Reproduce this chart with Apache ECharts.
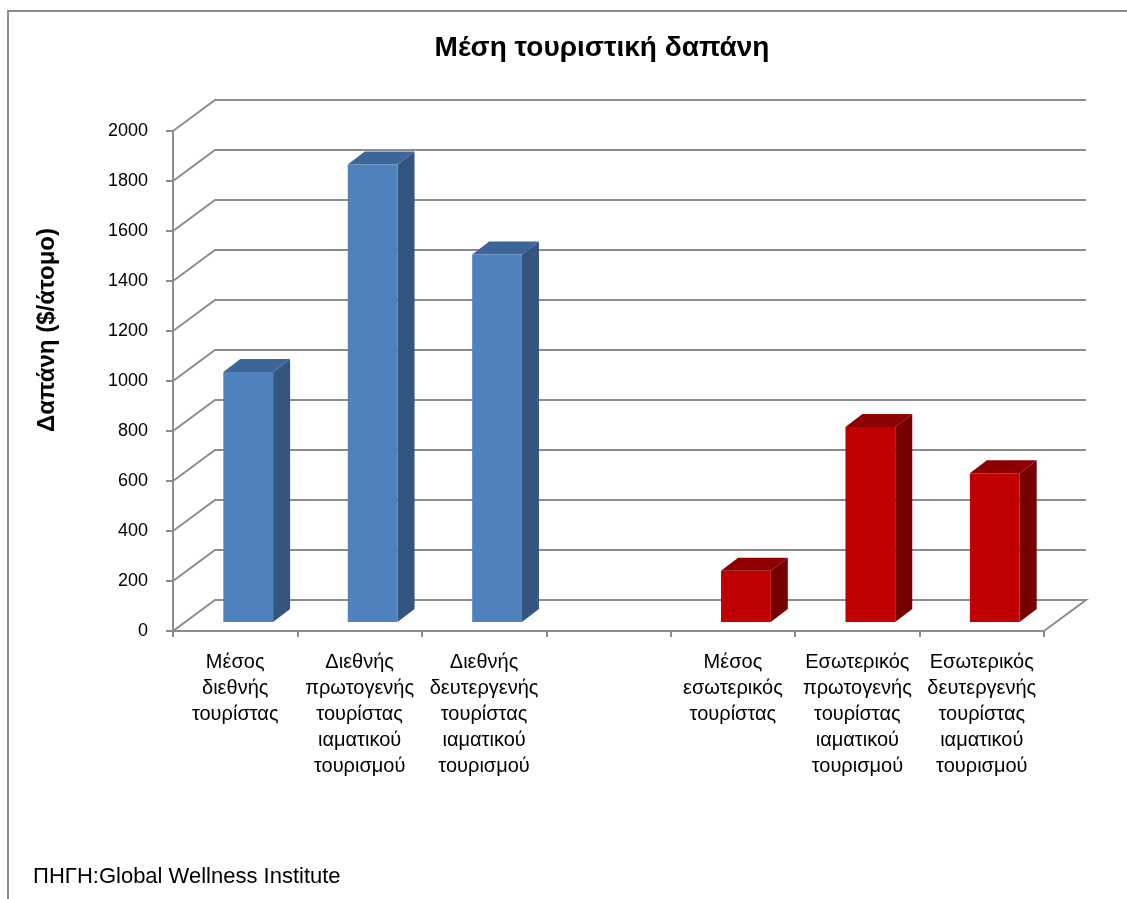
<!DOCTYPE html>
<html>
<head>
<meta charset="utf-8">
<script src="https://cdn.jsdelivr.net/npm/echarts@6/dist/echarts.min.js"></script>
<style>
  html, body { margin: 0; padding: 0; background: #fff; }
  #chart { width: 1127px; height: 899px; }
</style>
</head>
<body>
<div id="chart"></div>
<script>
// data
const categories = [
  'Μέσος\nδιεθνής\nτουρίστας',
  'Διεθνής\nπρωτογενής\nτουρίστας\nιαματικού\nτουρισμού',
  'Διεθνής\nδευτεργενής\nτουρίστας\nιαματικού\nτουρισμού',
  '',
  'Μέσος\nεσωτερικός\nτουρίστας',
  'Εσωτερικός\nπρωτογενής\nτουρίστας\nιαματικού\nτουρισμού',
  'Εσωτερικός\nδευτεργενής\nτουρίστας\nιαματικού\nτουρισμού'
]
const internationalIdx = [0, 1, 2]
const internationalValues = [1000, 1830, 1470]
const domesticIdx = [4, 5, 6]
const domesticValues = [205, 780, 595]
const yTicks = [0, 200, 400, 600, 800, 1000, 1200, 1400, 1600, 1800, 2000]

// pseudo 3d offsets (px)
const WALL = [42, -31]
const BAR_SHIFT = [13, -9]
const BAR_DEPTH = [17, -13]
const GRID_COLOR = '#8c8c8c'
const FONT = 'Liberation Sans'

const chart = echarts.init(document.getElementById('chart'))

// back wall + left wall + floor lines
const wallItem = (params, api) => {
  const band = api.size([1, 0])[0]
  const v = api.value(1)
  const p = api.coord([0, v])
  const left = p[0] - band / 2
  const right = api.coord([categories.length - 1, v])[0] + band / 2
  const y = p[1]
  const pts = [[left, y], [left + WALL[0], y + WALL[1]], [right + WALL[0], y + WALL[1]]]
  if (v === 0) pts.push([right, y])
  return {
    type: 'polyline',
    shape: { points: pts },
    style: { stroke: GRID_COLOR, lineWidth: 2, fill: null }
  }
}

const barItem = (front, side, top) => (params, api) => {
  const base = api.coord([api.value(0), 0])
  const head = api.coord([api.value(0), api.value(1)])
  const w = api.size([1, 0])[0] * 0.4
  const x0 = base[0] - w / 2 + BAR_SHIFT[0]
  const x1 = x0 + w
  const y0 = base[1] + BAR_SHIFT[1]
  const y1 = head[1] + BAR_SHIFT[1]
  const [dx, dy] = BAR_DEPTH
  return {
    type: 'group',
    children: [
      { type: 'polygon', shape: { points: [[x1, y1], [x1 + dx, y1 + dy], [x1 + dx, y0 + dy], [x1, y0]] }, style: { fill: side } },
      { type: 'polygon', shape: { points: [[x0, y1], [x0 + dx, y1 + dy], [x1 + dx, y1 + dy], [x1, y1]] }, style: { fill: top } },
      { type: 'polygon', shape: { points: [[x0, y1], [x1, y1], [x1, y0], [x0, y0]] }, style: { fill: front } }
    ]
  }
}

const options = {
  animation: false,
  textStyle: { fontFamily: FONT },
  title: {
    text: 'Μέση τουριστική δαπάνη',
    left: 597,
    top: 29,
    textAlign: 'center',
    textStyle: { fontFamily: FONT, fontSize: 28, fontWeight: 'bold', color: '#000' }
  },
  grid: { left: 173, top: 131, width: 871, height: 500 },
  xAxis: {
    type: 'category',
    data: categories,
    axisLine: { lineStyle: { color: GRID_COLOR, width: 2 } },
    axisTick: { show: true, interval: 0, length: 6, lineStyle: { color: GRID_COLOR, width: 2 } },
    axisLabel: { interval: 0, fontSize: 20, lineHeight: 26, margin: 18, color: '#000', fontFamily: FONT },
    splitLine: { show: false }
  },
  yAxis: {
    type: 'value',
    min: 0,
    max: 2000,
    interval: 200,
    axisLine: { show: true, lineStyle: { color: GRID_COLOR, width: 2 } },
    axisTick: { show: true, length: 7, lineStyle: { color: GRID_COLOR, width: 2 } },
    axisLabel: { fontSize: 18, margin: 25, color: '#000', fontFamily: FONT, formatter: v => String(v) },
    splitLine: { show: false }
  },
  series: [
    {
      type: 'custom',
      z: 1,
      silent: true,
      renderItem: wallItem,
      data: yTicks.map(v => [0, v])
    },
    {
      name: 'Διεθνής',
      type: 'custom',
      z: 3,
      renderItem: barItem('#4f81bd', '#34557f', '#3e6598'),
      data: internationalIdx.map((c, i) => [c, internationalValues[i]])
    },
    {
      name: 'Εσωτερικός',
      type: 'custom',
      z: 3,
      renderItem: barItem('#c00000', '#760000', '#8e0000'),
      data: domesticIdx.map((c, i) => [c, domesticValues[i]])
    }
  ],
  graphic: [
    {
      type: 'polyline',
      shape: { points: [[8, 899], [8, 11], [1127, 11]] },
      style: { stroke: '#8a8a8a', lineWidth: 2, fill: null }
    },
    {
      type: 'text',
      x: 47,
      y: 330,
      rotation: Math.PI / 2,
      style: { text: 'Δαπάνη ($/άτομο)', fontSize: 24, fontWeight: 'bold', fill: '#000', fontFamily: FONT, align: 'center', verticalAlign: 'middle' }
    },
    {
      type: 'text',
      x: 33,
      y: 877,
      style: { text: 'ΠΗΓΗ:Global Wellness Institute', fontSize: 22, fill: '#000', fontFamily: FONT, verticalAlign: 'middle' }
    }
  ]
}
chart.setOption(options)
</script>
</body>
</html>
